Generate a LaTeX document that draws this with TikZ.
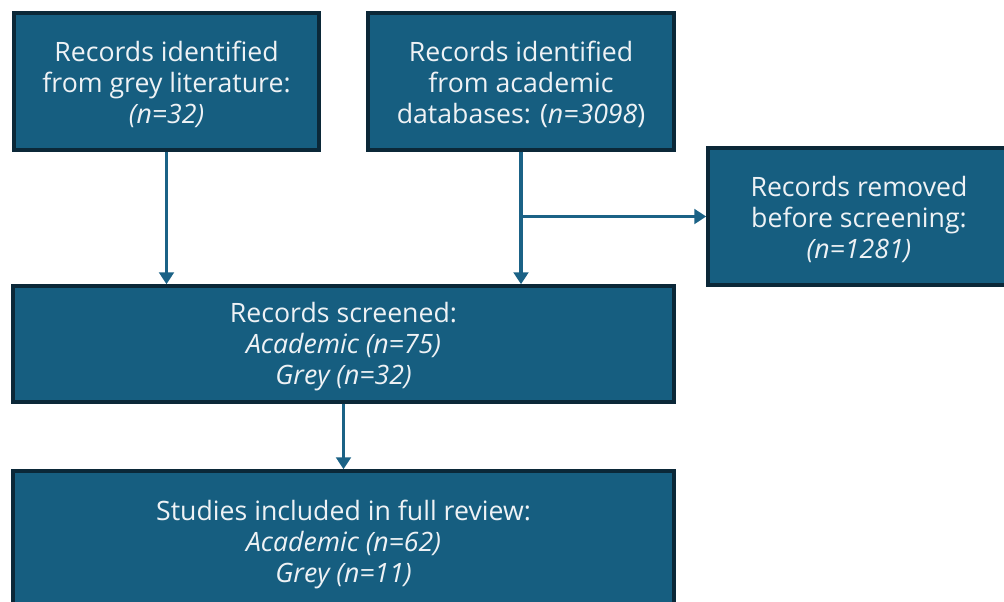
\documentclass[tikz,border=0pt]{standalone}
\usepackage{fontspec}
\setmainfont{Open Sans}
\usetikzlibrary{arrows.meta}
\definecolor{boxfill}{HTML}{165E80}
\definecolor{boxline}{HTML}{0B2838}
\definecolor{arrowc}{HTML}{1B6286}
\definecolor{txt}{HTML}{EEF2F5}
\newcommand{\mytopstrut}{\rule{0pt}{19.5pt}}
\begin{document}
\begin{tikzpicture}[x=0.75pt,y=-0.75pt,
  flowbox/.style={draw=boxline,fill=boxfill,line width=2.6pt,text=txt,align=center,
    inner sep=0pt,font=\fontsize{20}{23.25}\selectfont},
  flowarrow/.style={draw=arrowc,line width=2.6pt,-{Triangle[length=9pt,width=11pt]}}]
\useasboundingbox (0,0) rectangle (1004,601);
\node[flowbox,minimum width=228.75pt,minimum height=102.75pt] (b1) at (166.5,81.5)
  {\mytopstrut Records identified\\from grey literature:\\\textit{(n=32)}};
\node[flowbox,minimum width=229.5pt,minimum height=102.75pt] (b2) at (521,81.5)
  {\mytopstrut Records identified\\from academic\\databases: (\textit{n=3098})};
\node[flowbox,minimum width=226.5pt,minimum height=102.75pt] (b3) at (859,216.5)
  {\mytopstrut Records removed\\before screening:\\\textit{(n=1281)}};
\node[flowbox,minimum width=495.75pt,minimum height=87pt] (b4) at (343.5,344)
  {\mytopstrut Records screened:\\\textit{Academic (n=75)}\\\textit{Grey (n=32)}};
\node[flowbox,minimum width=495.75pt,minimum height=105.75pt] (b5) at (343.5,541.5)
  {\mytopstrut Studies included in full review:\\\textit{Academic (n=62)}\\\textit{Grey (n=11)}};
\draw[flowarrow] (b1.south) -- (b1.south |- b4.north);
\draw[flowarrow] (b2.south) -- (b2.south |- b4.north);
\coordinate (branch) at (b2.south |- b3.west);
\draw[flowarrow] (branch) -- (b3.west);
\draw[flowarrow] (b4.south) -- (b5.north);
\end{tikzpicture}
\end{document}
